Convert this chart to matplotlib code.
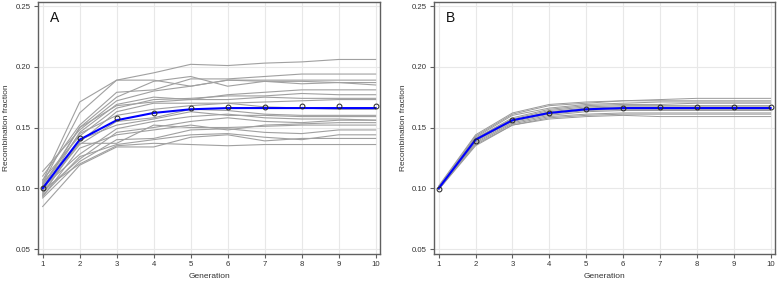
import matplotlib
matplotlib.use("Agg")
import matplotlib.pyplot as plt

plt.rcParams["font.family"] = ["Liberation Sans", "DejaVu Sans"]

generations = [1, 2, 3, 4, 5, 6, 7, 8, 9, 10]

# panel A: individual replicate trajectories
runs_a = [
    [0.106, 0.171, 0.189, 0.195, 0.202, 0.201, 0.203, 0.204, 0.206, 0.206],
    [0.104, 0.162, 0.189, 0.189, 0.184, 0.189, 0.189, 0.189, 0.189, 0.189],
    [0.110, 0.152, 0.179, 0.181, 0.190, 0.190, 0.192, 0.194, 0.194, 0.194],
    [0.102, 0.150, 0.175, 0.188, 0.192, 0.184, 0.188, 0.188, 0.187, 0.187],
    [0.114, 0.148, 0.172, 0.180, 0.184, 0.189, 0.188, 0.186, 0.187, 0.185],
    [0.098, 0.146, 0.169, 0.175, 0.173, 0.177, 0.179, 0.181, 0.181, 0.181],
    [0.107, 0.143, 0.166, 0.173, 0.174, 0.176, 0.176, 0.178, 0.177, 0.177],
    [0.100, 0.150, 0.168, 0.171, 0.173, 0.173, 0.175, 0.174, 0.174, 0.174],
    [0.096, 0.138, 0.163, 0.170, 0.170, 0.170, 0.171, 0.172, 0.173, 0.173],
    [0.103, 0.145, 0.160, 0.165, 0.168, 0.170, 0.167, 0.166, 0.165, 0.165],
    [0.099, 0.136, 0.155, 0.158, 0.165, 0.164, 0.161, 0.160, 0.160, 0.160],
    [0.095, 0.140, 0.152, 0.157, 0.163, 0.160, 0.160, 0.159, 0.159, 0.159],
    [0.101, 0.128, 0.149, 0.155, 0.159, 0.161, 0.158, 0.157, 0.157, 0.156],
    [0.097, 0.124, 0.146, 0.150, 0.155, 0.158, 0.155, 0.154, 0.156, 0.156],
    [0.093, 0.133, 0.144, 0.148, 0.152, 0.148, 0.152, 0.153, 0.154, 0.154],
    [0.105, 0.137, 0.137, 0.152, 0.150, 0.150, 0.151, 0.152, 0.152, 0.152],
    [0.092, 0.122, 0.140, 0.141, 0.148, 0.149, 0.146, 0.145, 0.148, 0.148],
    [0.094, 0.126, 0.136, 0.140, 0.144, 0.145, 0.142, 0.140, 0.144, 0.144],
    [0.085, 0.119, 0.134, 0.134, 0.142, 0.144, 0.139, 0.141, 0.141, 0.141],
    [0.099, 0.120, 0.135, 0.137, 0.136, 0.135, 0.136, 0.136, 0.136, 0.136],
]
mean_a = [0.100, 0.140, 0.156, 0.162, 0.165, 0.166, 0.166, 0.166, 0.166, 0.166]
expected_a = [0.100, 0.141, 0.158, 0.162, 0.166, 0.167, 0.167, 0.168, 0.168, 0.168]

# panel B: individual replicate trajectories
runs_b = [
    [0.102, 0.144, 0.162, 0.169, 0.171, 0.172, 0.173, 0.174, 0.174, 0.174],
    [0.101, 0.143, 0.161, 0.168, 0.170, 0.172, 0.172, 0.172, 0.172, 0.172],
    [0.100, 0.142, 0.160, 0.166, 0.169, 0.170, 0.171, 0.171, 0.171, 0.171],
    [0.101, 0.141, 0.158, 0.165, 0.168, 0.169, 0.169, 0.170, 0.170, 0.170],
    [0.099, 0.141, 0.157, 0.164, 0.167, 0.168, 0.168, 0.168, 0.168, 0.168],
    [0.100, 0.140, 0.156, 0.163, 0.166, 0.167, 0.167, 0.167, 0.167, 0.167],
    [0.100, 0.139, 0.156, 0.162, 0.165, 0.166, 0.166, 0.166, 0.166, 0.166],
    [0.099, 0.139, 0.155, 0.161, 0.164, 0.165, 0.165, 0.165, 0.165, 0.165],
    [0.099, 0.138, 0.154, 0.160, 0.163, 0.164, 0.164, 0.164, 0.164, 0.164],
    [0.100, 0.137, 0.153, 0.159, 0.161, 0.162, 0.162, 0.162, 0.162, 0.162],
    [0.099, 0.136, 0.152, 0.158, 0.160, 0.161, 0.161, 0.161, 0.161, 0.161],
    [0.099, 0.135, 0.152, 0.157, 0.159, 0.160, 0.159, 0.159, 0.159, 0.159],
]
mean_b = [0.100, 0.140, 0.156, 0.162, 0.165, 0.166, 0.166, 0.166, 0.166, 0.166]
expected_b = [0.099, 0.139, 0.156, 0.162, 0.165, 0.166, 0.167, 0.167, 0.167, 0.167]

yticks = [0.05, 0.10, 0.15, 0.20, 0.25]

fig = plt.figure(figsize=(7.77, 2.82), dpi=100)
ax_a = fig.add_axes([0.0489, 0.0993, 0.4402, 0.8936])
ax_b = fig.add_axes([0.5586, 0.0993, 0.4388, 0.8936])

for ax, runs, mean, expected, letter, gcol, glw in [
    (ax_a, runs_a, mean_a, expected_a, "A", "#a0a0a0", 0.8),
    (ax_b, runs_b, mean_b, expected_b, "B", "#9a9a9a", 0.7),
]:
    for run in runs:
        ax.plot(generations, run, color=gcol, lw=glw, zorder=2)
    ax.plot(generations, mean, color="#0000ff", lw=1.5, zorder=3)
    ax.plot(generations, expected, ls="none", marker="o", ms=3.5,
            mfc="none", mec="#222222", mew=0.7, zorder=4)

    ax.set_xlim(0.873, 10.12)
    ax.set_ylim(0.0459, 0.2533)
    ax.set_xticks(generations)
    ax.set_yticks(yticks)
    ax.set_yticklabels([f"{v:.2f}" for v in yticks])
    ax.grid(True, color="#e8e8e8", lw=0.8, zorder=0)
    ax.set_axisbelow(True)
    for s in ax.spines.values():
        s.set_color("#606060")
        s.set_linewidth(1.0)
    ax.tick_params(direction="out", length=3, width=0.8, color="#606060",
                   labelsize=5.6, labelcolor="#333333", pad=2)
    ax.set_xlabel("Generation", fontsize=6, color="#333333", labelpad=4)
    ax.set_ylabel("Recombination fraction", fontsize=6, color="#333333", labelpad=4)
    ax.text(0.035, 0.936, letter, transform=ax.transAxes, fontsize=10,
            va="center", ha="left", color="#111111")

fig.savefig("out.png", dpi=100)
